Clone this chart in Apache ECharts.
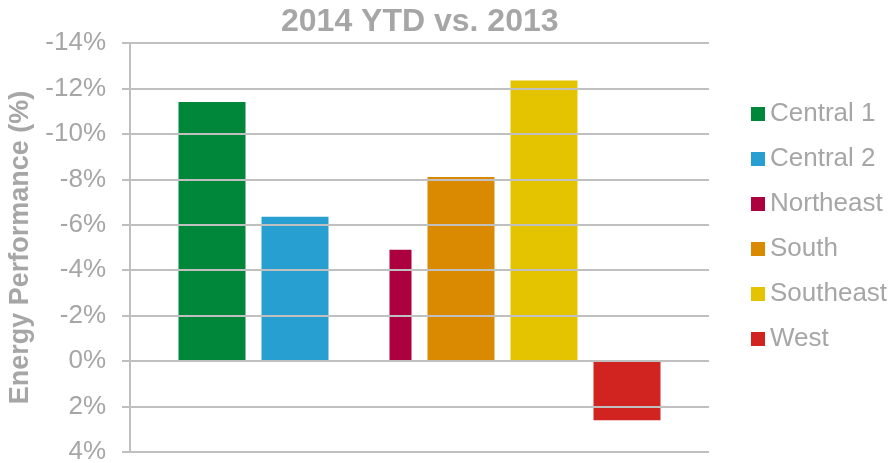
<!DOCTYPE html>
<html>
<head>
<meta charset="utf-8">
<script src="https://cdn.jsdelivr.net/npm/echarts@6/dist/echarts.min.js"></script>
<style>
  html, body { margin: 0; padding: 0; background: #fff; }
  #chart { width: 892px; height: 463px; }
</style>
</head>
<body>
<div id="chart"></div>
<script>
// values (negative = better, axis is inverted)
const regions = ['Central 1', 'Central 2', 'Northeast', 'South', 'Southeast', 'West'];
const performance = [-11.4, -6.35, -4.9, -8.1, -12.35, 2.6];
const colors = ['#00873a', '#289fd1', '#ad003f', '#da8a00', '#e4c400', '#d12320'];
const yTicks = { min: -14, max: 4, step: 2 };

const font = "'Liberation Sans', Arial, sans-serif";
const gray = '#a6a6a6';

const chart = echarts.init(document.getElementById('chart'));

// Northeast is drawn narrow and right-aligned in its slot, so it lives on
// a second hidden x axis; a blank placeholder keeps its slot on the first one.
const series = [];
regions.forEach((name, i) => {
  if (name === 'Northeast') {
    series.push({ name: 'slot', type: 'bar', xAxisIndex: 0, barWidth: 67, barGap: '23.88%', data: [null] });
    series.push({
      name, type: 'bar', xAxisIndex: 1, barWidth: 22, barGap: '0%',
      data: [performance[i]], itemStyle: { color: colors[i] }
    });
    series.push({ name: 'pad', type: 'bar', xAxisIndex: 1, barWidth: 38, barGap: '0%', data: [null] });
  } else {
    series.push({
      name, type: 'bar', xAxisIndex: 0, barWidth: 67, barGap: '23.88%',
      data: [performance[i]], itemStyle: { color: colors[i] }
    });
  }
});

chart.setOption({
  animation: false,
  backgroundColor: '#fff',
  title: {
    text: '2014 YTD vs. 2013',
    left: 281,
    top: 6,
    padding: 0,
    textStyle: { color: gray, fontSize: 32, fontWeight: 'bold', fontFamily: font }
  },
  legend: {
    data: regions,
    orient: 'vertical',
    left: 751,
    top: 101,
    padding: 0,
    icon: 'rect',
    itemWidth: 14,
    itemHeight: 14,
    itemGap: 19,
    selectedMode: false,
    textStyle: { color: gray, fontSize: 26, lineHeight: 26, fontFamily: font }
  },
  grid: { left: 130, right: 183, top: 43, bottom: 11, containLabel: false, outerBoundsMode: 'none' },
  xAxis: [
    { type: 'category', data: ['2014 YTD'], show: false },
    { type: 'category', data: ['2014 YTD'], show: false }
  ],
  yAxis: {
    type: 'value',
    inverse: true,
    min: yTicks.min,
    max: yTicks.max,
    interval: yTicks.step,
    z: 3,
    name: 'Energy Performance (%)',
    nameLocation: 'middle',
    nameRotate: 90,
    nameGap: 92,
    nameTextStyle: { color: gray, fontSize: 27, fontWeight: 'bold', fontFamily: font },
    axisLine: { show: true, lineStyle: { color: '#bfbfbf', width: 2 } },
    axisTick: { show: true, inside: false, length: 8, lineStyle: { color: '#bfbfbf', width: 2 } },
    axisLabel: {
      color: gray, fontSize: 26, fontFamily: font, margin: 24,
      formatter: '{value}%'
    },
    splitLine: { show: true, lineStyle: { color: '#c0c0c0', width: 2 } }
  },
  series
});
</script>
</body>
</html>
